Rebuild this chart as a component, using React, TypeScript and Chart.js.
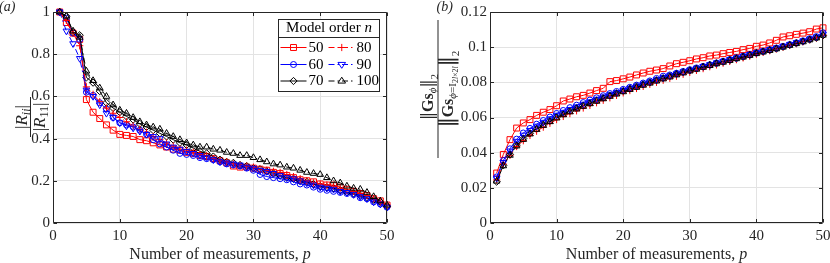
import React, { useEffect, useRef } from 'react';
import { Chart, registerables } from 'chart.js';
Chart.register(...registerables);

// ---------- data ----------
const measurements = [1,2,3,4,5,6,7,8,9,10,11,12,13,14,15,16,17,18,19,20,21,22,23,24,25,26,27,28,29,30,31,32,33,34,35,36,37,38,39,40,41,42,43,44,45,46,47,48,49,50];
const modelOrders = ['50', '60', '70', '80', '90', '100'];
const xTicks = [0, 10, 20, 30, 40, 50];
const yTicksA = [0, 0.2, 0.4, 0.6, 0.8, 1];
const yTicksB = [0, 0.02, 0.04, 0.06, 0.08, 0.1, 0.12];

// (a) |R_ii| / |R_11|
const ratio50 = [1.0,0.95,0.90,0.87,0.585,0.525,0.495,0.465,0.44,0.42,0.415,0.41,0.395,0.39,0.38,0.37,0.36,0.35,0.345,0.335,0.33,0.32,0.315,0.305,0.295,0.285,0.27,0.265,0.265,0.26,0.255,0.25,0.24,0.235,0.225,0.215,0.205,0.2,0.195,0.185,0.18,0.18,0.17,0.16,0.15,0.14,0.13,0.115,0.105,0.085];
const ratio60 = [1.0,0.97,0.9,0.87,0.62,0.605,0.57,0.54,0.5,0.475,0.465,0.455,0.44,0.42,0.395,0.375,0.36,0.345,0.33,0.325,0.32,0.31,0.305,0.3,0.29,0.28,0.275,0.27,0.26,0.25,0.23,0.22,0.215,0.21,0.205,0.195,0.185,0.18,0.17,0.16,0.155,0.15,0.145,0.14,0.135,0.12,0.115,0.1,0.09,0.075];
const ratio70 = [1.0,0.98,0.905,0.89,0.69,0.665,0.625,0.57,0.545,0.525,0.505,0.49,0.47,0.455,0.44,0.425,0.41,0.395,0.38,0.37,0.355,0.34,0.33,0.315,0.3,0.29,0.285,0.275,0.27,0.26,0.255,0.245,0.235,0.225,0.215,0.21,0.2,0.195,0.185,0.175,0.17,0.165,0.155,0.145,0.14,0.13,0.12,0.11,0.1,0.08];
const ratio80 = [1.0,0.96,0.9,0.84,0.645,0.61,0.575,0.545,0.52,0.5,0.48,0.46,0.445,0.43,0.41,0.395,0.38,0.365,0.35,0.345,0.335,0.325,0.32,0.305,0.295,0.29,0.28,0.275,0.27,0.265,0.255,0.25,0.245,0.24,0.23,0.22,0.21,0.2,0.19,0.185,0.18,0.175,0.165,0.155,0.15,0.14,0.13,0.115,0.1,0.085];
const ratio90 = [1.0,0.91,0.85,0.78,0.63,0.6,0.56,0.52,0.5,0.475,0.46,0.45,0.435,0.42,0.41,0.4,0.375,0.36,0.35,0.34,0.33,0.32,0.31,0.3,0.29,0.285,0.28,0.275,0.265,0.26,0.25,0.245,0.235,0.225,0.215,0.21,0.2,0.19,0.18,0.17,0.165,0.16,0.15,0.145,0.135,0.125,0.115,0.1,0.09,0.075];
const ratio100 = [1.0,0.98,0.91,0.88,0.72,0.675,0.64,0.6,0.56,0.535,0.52,0.5,0.48,0.465,0.455,0.445,0.425,0.41,0.395,0.38,0.37,0.36,0.36,0.35,0.345,0.335,0.33,0.32,0.32,0.31,0.3,0.29,0.28,0.275,0.265,0.26,0.25,0.24,0.235,0.23,0.215,0.2,0.19,0.175,0.165,0.16,0.145,0.125,0.105,0.085];

// (b) norm ratio
const norm50 = [0.0284,0.039,0.0474,0.054,0.0569,0.0588,0.0612,0.063,0.0645,0.0667,0.0694,0.0705,0.0718,0.0726,0.0739,0.0753,0.0766,0.0804,0.081,0.082,0.083,0.0842,0.0853,0.0863,0.087,0.0878,0.0893,0.0906,0.0914,0.0923,0.0933,0.094,0.095,0.0955,0.0963,0.097,0.0976,0.0986,0.0993,0.1005,0.1012,0.1024,0.1039,0.1058,0.1065,0.1073,0.108,0.1088,0.1103,0.111];
const norm60 = [0.0262,0.0355,0.0422,0.0477,0.0512,0.0538,0.0562,0.0583,0.0603,0.0623,0.064,0.0656,0.067,0.0685,0.0699,0.0712,0.0724,0.0736,0.0748,0.076,0.0772,0.0784,0.0796,0.0808,0.0822,0.0835,0.0842,0.0852,0.0862,0.0872,0.0882,0.0891,0.09,0.091,0.092,0.093,0.094,0.0949,0.0958,0.0968,0.0977,0.0986,0.0995,0.1005,0.1015,0.1025,0.1036,0.1048,0.106,0.1082];
const norm70 = [0.0235,0.0328,0.039,0.0442,0.048,0.051,0.0536,0.0559,0.058,0.0602,0.062,0.0637,0.0653,0.0668,0.0682,0.0697,0.0711,0.0725,0.0738,0.0751,0.0764,0.0776,0.0788,0.08,0.0812,0.0824,0.0835,0.0847,0.0858,0.0868,0.0878,0.0888,0.0899,0.0908,0.0917,0.0926,0.0936,0.0945,0.0955,0.0966,0.0975,0.0983,0.0992,0.1002,0.1012,0.1022,0.1032,0.1043,0.1053,0.1067];
const norm80 = [0.0245,0.0335,0.0385,0.0435,0.0468,0.0498,0.0522,0.0545,0.0567,0.0588,0.0606,0.0622,0.0638,0.0654,0.0669,0.0684,0.0698,0.0712,0.0726,0.074,0.0753,0.0765,0.0777,0.0789,0.08,0.0812,0.0823,0.0835,0.0846,0.0857,0.0868,0.0878,0.0889,0.0899,0.0909,0.0919,0.0929,0.0939,0.0949,0.096,0.097,0.098,0.099,0.1001,0.1011,0.1021,0.1031,0.1042,0.1053,0.1068];
const norm90 = [0.0255,0.0345,0.041,0.0465,0.05,0.0527,0.0551,0.0573,0.0593,0.0613,0.063,0.0646,0.0661,0.0676,0.069,0.0704,0.0717,0.073,0.0742,0.0755,0.0767,0.0779,0.0791,0.0803,0.0815,0.0827,0.0838,0.0849,0.086,0.087,0.0881,0.0891,0.0901,0.0911,0.092,0.093,0.0939,0.0949,0.0959,0.0969,0.0978,0.0987,0.0996,0.1006,0.1016,0.1026,0.1036,0.1047,0.1058,0.1075];
const norm100 = [0.0238,0.0325,0.0385,0.0438,0.0475,0.0506,0.0532,0.0555,0.0576,0.0597,0.0615,0.0632,0.0648,0.0663,0.0678,0.0692,0.0706,0.072,0.0733,0.0746,0.0759,0.0771,0.0783,0.0795,0.0807,0.0819,0.083,0.0842,0.0853,0.0864,0.0874,0.0885,0.0895,0.0905,0.0914,0.0924,0.0934,0.0943,0.0953,0.0963,0.0972,0.0981,0.099,0.1,0.101,0.102,0.103,0.1041,0.1052,0.1068];

const seriesA = [ratio50, ratio60, ratio70, ratio80, ratio90, ratio100];
const seriesB = [norm50, norm60, norm70, norm80, norm90, norm100];

// ---------- styles ----------
const AXIS = '#262626';
const GRID = '#e3e3e3';
const SERIF = '"Liberation Serif", "DejaVu Serif", serif';
const DASHDOT = [6, 3, 1.5, 3];
const styles = [
  { color: '#ff0000', point: 'rect', radius: 4.2, rot: 0, dash: [] as number[] },
  { color: '#0000ff', point: 'circle', radius: 3, rot: 0, dash: [] as number[] },
  { color: '#000000', point: 'rectRot', radius: 3.6, rot: 0, dash: [] as number[] },
  { color: '#ff0000', point: 'cross', radius: 3.6, rot: 0, dash: DASHDOT },
  { color: '#0000ff', point: 'triangle', radius: 3.8, rot: 180, dash: DASHDOT },
  { color: '#000000', point: 'triangle', radius: 3.8, rot: 0, dash: DASHDOT },
];

type Part = { t: string; f: string; dy?: number };

function partsWidth(ctx: CanvasRenderingContext2D, parts: Part[]) {
  let w = 0;
  for (const p of parts) { ctx.font = p.f; w += ctx.measureText(p.t).width; }
  return w;
}
function drawParts(ctx: CanvasRenderingContext2D, parts: Part[], x: number, y: number) {
  let cx = x;
  for (const p of parts) {
    ctx.font = p.f;
    ctx.fillText(p.t, cx, y + (p.dy || 0));
    cx += ctx.measureText(p.t).width;
  }
}
function drawFracRot(ctx: CanvasRenderingContext2D, cx: number, cy: number, num: Part[], den: Part[],
  barLen: number, numGap: number, denGap: number, numOff: number, denOff: number) {
  ctx.save();
  ctx.translate(cx, cy);
  ctx.rotate(-Math.PI / 2);
  ctx.fillStyle = AXIS;
  ctx.textBaseline = 'alphabetic';
  const wn = partsWidth(ctx, num);
  drawParts(ctx, num, -wn / 2 + numOff, -numGap);
  const wd = partsWidth(ctx, den);
  drawParts(ctx, den, -wd / 2 + denOff, denGap);
  ctx.fillRect(-barLen / 2, -0.5, barLen, 1);
  ctx.restore();
}

function drawMarker(ctx: CanvasRenderingContext2D, st: typeof styles[number], x: number, y: number) {
  const r = st.radius;
  ctx.beginPath();
  if (st.point === 'rect') {
    const s = Math.SQRT1_2 * r;
    ctx.rect(x - s, y - s, 2 * s, 2 * s);
  } else if (st.point === 'circle') {
    ctx.arc(x, y, r, 0, Math.PI * 2);
  } else if (st.point === 'rectRot') {
    ctx.moveTo(x, y - r); ctx.lineTo(x + r, y); ctx.lineTo(x, y + r); ctx.lineTo(x - r, y); ctx.closePath();
  } else if (st.point === 'cross') {
    ctx.moveTo(x - r, y); ctx.lineTo(x + r, y); ctx.moveTo(x, y - r); ctx.lineTo(x, y + r);
  } else if (st.point === 'triangle') {
    const dir = st.rot === 180 ? -1 : 1;
    ctx.moveTo(x, y - dir * r);
    ctx.lineTo(x + r, y + dir * r * 0.55);
    ctx.lineTo(x - r, y + dir * r * 0.55);
    ctx.closePath();
  }
  ctx.stroke();
}

function makeDecor(panel: 'a' | 'b') {
  return {
    id: 'decor' + panel,
    afterDraw(chart: any) {
      const { ctx, chartArea: a } = chart;
      const xs = chart.scales.x, ys = chart.scales.y;
      ctx.save();
      ctx.strokeStyle = AXIS;
      ctx.lineWidth = 1;
      const L = Math.round(a.left) + 0.5, R = Math.round(a.right) - 0.5;
      const T = Math.round(a.top) + 0.5, B = Math.round(a.bottom) - 0.5;
      ctx.beginPath();
      ctx.rect(L, T, R - L, B - T);
      const tl = 3.5;
      xs.ticks.forEach((t: any) => {
        const px = Math.round(xs.getPixelForValue(t.value)) + 0.5;
        ctx.moveTo(px, B); ctx.lineTo(px, B - tl);
        ctx.moveTo(px, T); ctx.lineTo(px, T + tl);
      });
      ys.ticks.forEach((t: any) => {
        const py = Math.round(ys.getPixelForValue(t.value)) + 0.5;
        ctx.moveTo(L, py); ctx.lineTo(L + tl, py);
        ctx.moveTo(R, py); ctx.lineTo(R - tl, py);
      });
      ctx.stroke();

      // x title
      ctx.fillStyle = AXIS;
      ctx.textBaseline = 'middle';
      const xt: Part[] = [
        { t: 'Number of measurements, ', f: `16px ${SERIF}` },
        { t: 'p', f: `italic 16px ${SERIF}` },
      ];
      const wxt = partsWidth(ctx, xt);
      drawParts(ctx, xt, (a.left + a.right) / 2 - wxt / 2, 255);

      // panel label
      ctx.font = `italic 14px ${SERIF}`;
      ctx.textBaseline = 'alphabetic';
      ctx.textAlign = 'left';
      if (panel === 'a') {
        ctx.fillText('(a)', -1, 11);
      } else {
        ctx.fillText('(b)', 16.5, 11);
      }

      if (panel === 'a') {
        const num: Part[] = [
          { t: '|', f: `17px ${SERIF}` },
          { t: 'R', f: `italic 17px ${SERIF}` },
          { t: 'ii', f: `italic 12px ${SERIF}`, dy: 3 },
          { t: '|', f: `17px ${SERIF}` },
        ];
        const den: Part[] = [
          { t: '|', f: `17px ${SERIF}` },
          { t: 'R', f: `italic 17px ${SERIF}` },
          { t: '11', f: `12px ${SERIF}`, dy: 3 },
          { t: '|', f: `17px ${SERIF}` },
        ];
        drawFracRot(ctx, 30.5, 117, num, den, 40, 4, 14, 0, 0);

        // legend
        const bx = 278.5, by = 19.5, bw = 101, bh = 72;
        ctx.fillStyle = '#ffffff';
        ctx.fillRect(bx, by, bw, bh);
        ctx.strokeStyle = AXIS;
        ctx.lineWidth = 1;
        ctx.strokeRect(bx, by, bw, bh);
        ctx.beginPath();
        ctx.moveTo(bx, 37.5); ctx.lineTo(bx + bw, 37.5);
        ctx.stroke();
        ctx.fillStyle = '#000';
        ctx.textBaseline = 'middle';
        const title: Part[] = [
          { t: 'Model order ', f: `15px ${SERIF}` },
          { t: 'n', f: `italic 15px ${SERIF}` },
        ];
        const wt = partsWidth(ctx, title);
        drawParts(ctx, title, bx + bw / 2 - wt / 2, 28.5);
        const rows = [47.5, 64.5, 81];
        modelOrders.forEach((lab, i) => {
          const col = i < 3 ? 0 : 1;
          const row = i % 3;
          const st = styles[i];
          const y = rows[row];
          const x1 = col === 0 ? 280.5 : 328.5;
          const x2 = col === 0 ? 306.5 : 355;
          ctx.strokeStyle = st.color;
          ctx.lineWidth = 1;
          ctx.setLineDash(st.dash);
          ctx.beginPath();
          ctx.moveTo(x1, y); ctx.lineTo(x2, y);
          ctx.stroke();
          ctx.setLineDash([]);
          drawMarker(ctx, st, (x1 + x2) / 2, y);
          ctx.fillStyle = '#000';
          ctx.font = `15px ${SERIF}`;
          ctx.textBaseline = 'middle';
          ctx.fillText(lab, col === 0 ? 308.5 : 356.5, y + 0.5);
        });
      } else {
        const DJ = '"DejaVu Serif", serif';
        const num: Part[] = [
          { t: '‖', f: `16px ${DJ}` },
          { t: 'G', f: `bold 16px ${SERIF}` },
          { t: 's', f: `bold 16px ${SERIF}` },
          { t: 'ϕ', f: `italic 11px ${SERIF}`, dy: 3 },
          { t: '‖', f: `16px ${DJ}` },
          { t: '2', f: `11px ${SERIF}`, dy: 5 },
        ];
        const den: Part[] = [
          { t: '‖', f: `20px ${DJ}` },
          { t: 'G', f: `bold 16px ${SERIF}` },
          { t: 's', f: `bold 16px ${SERIF}` },
          { t: 'ϕ', f: `italic 11px ${SERIF}`, dy: 3 },
          { t: '=I', f: `11px ${SERIF}`, dy: 3 },
          { t: '2', f: `8px ${SERIF}`, dy: 5 },
          { t: 'l', f: `italic 8px ${SERIF}`, dy: 5 },
          { t: '×2', f: `8px ${SERIF}`, dy: 5 },
          { t: 'l', f: `italic 8px ${SERIF}`, dy: 5 },
          { t: '‖', f: `20px ${DJ}` },
          { t: '2', f: `11px ${SERIF}`, dy: 6 },
        ];
        drawFracRot(ctx, 18, 89, num, den, 138, 5, 15, -8, 0);
      }
      ctx.restore();
    },
  };
}

function buildConfig(panel: 'a' | 'b'): any {
  const series = panel === 'a' ? seriesA : seriesB;
  const yTicks = panel === 'a' ? yTicksA : yTicksB;
  const datasets = series.map((vals, i) => ({
    label: modelOrders[i],
    data: measurements.map((p, k) => ({ x: p, y: vals[k] })),
    borderColor: styles[i].color,
    backgroundColor: 'rgba(0,0,0,0)',
    borderWidth: 1,
    borderDash: styles[i].dash,
    pointStyle: styles[i].point,
    pointRadius: styles[i].radius,
    pointRotation: styles[i].rot,
    pointBorderColor: styles[i].color,
    pointBackgroundColor: 'rgba(0,0,0,0)',
    pointBorderWidth: 1,
    tension: 0,
    fill: false,
    clip: false,
    order: 5 - i,
  }));
  const yAxisWidth = panel === 'a' ? 53 : 70;
  return {
    type: 'line',
    data: { datasets },
    options: {
      animation: false,
      responsive: false,
      maintainAspectRatio: false,
      events: [],
      layout: { autoPadding: false, padding: { left: 0, top: 12, right: panel === 'a' ? 33 : 7, bottom: 0 } },
      plugins: { legend: { display: false }, tooltip: { enabled: false } },
      scales: {
        x: {
          type: 'linear',
          min: 0,
          max: 50,
          afterBuildTicks: (s: any) => { s.ticks = xTicks.map((v) => ({ value: v })); },
          ticks: { color: AXIS, font: { family: SERIF, size: 15 }, padding: 4, maxRotation: 0, autoSkip: false,
            callback: (v: any) => String(v) },
          grid: { color: GRID, drawTicks: false, lineWidth: 1 },
          border: { display: false },
          afterFit: (s: any) => { s.height = 40; s.paddingLeft = 0; s.paddingRight = 0; },
        },
        y: {
          type: 'linear',
          min: 0,
          max: panel === 'a' ? 1 : 0.12,
          afterBuildTicks: (s: any) => { s.ticks = yTicks.map((v) => ({ value: v })); },
          ticks: { color: AXIS, font: { family: SERIF, size: 15 }, padding: 3, autoSkip: false,
            callback: (v: any) => String(parseFloat(Number(v).toFixed(3))) },
          grid: { color: GRID, drawTicks: false, lineWidth: 1 },
          border: { display: false },
          afterFit: (s: any) => { s.width = yAxisWidth; s.paddingTop = 0; s.paddingBottom = 0; },
        },
      },
    },
    plugins: [makeDecor(panel)],
  };
}

export default function App() {
  const refA = useRef<HTMLCanvasElement>(null);
  const refB = useRef<HTMLCanvasElement>(null);
  useEffect(() => {
    const ca = new Chart(refA.current as HTMLCanvasElement, buildConfig('a'));
    const cb = new Chart(refB.current as HTMLCanvasElement, buildConfig('b'));
    return () => { ca.destroy(); cb.destroy(); };
  }, []);
  return (
    <div style={{ position: 'fixed', left: 0, top: 0, width: 830, height: 263, background: '#ffffff' }}>
      <canvas ref={refA} width={420} height={263} style={{ position: 'absolute', left: 0, top: 0, width: 420, height: 263 }} />
      <canvas ref={refB} width={410} height={263} style={{ position: 'absolute', left: 420, top: 0, width: 410, height: 263 }} />
    </div>
  );
}
